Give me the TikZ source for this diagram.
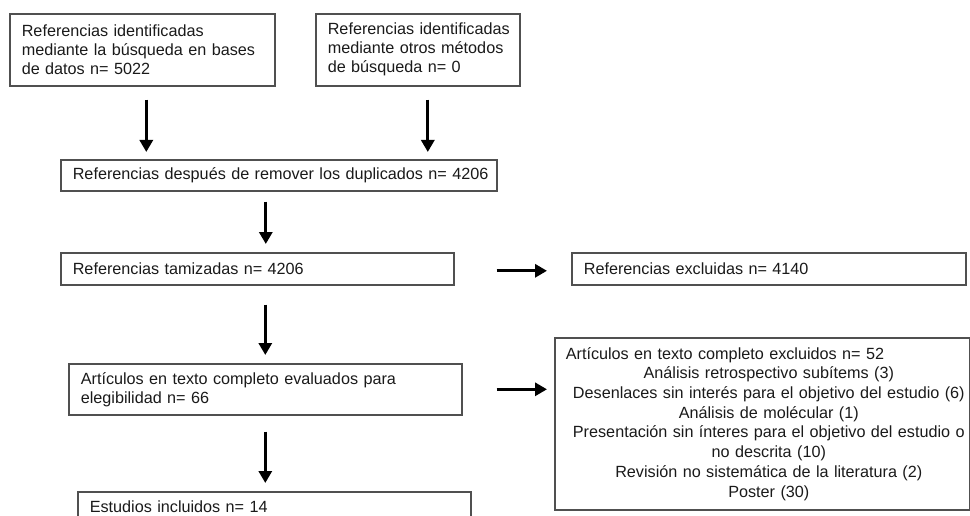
\documentclass[tikz,border=0pt]{standalone}
\usepackage{fontspec}
\setmainfont{Liberation Sans}
\usetikzlibrary{arrows.meta,calc}
\definecolor{boxline}{HTML}{505050}
\definecolor{txt}{HTML}{1A1A1A}
\newcommand{\myoneline}[1]{\mbox{#1}}
\newcommand{\myctrline}[1]{\makebox[406pt][c]{#1}}
\begin{document}
\begin{tikzpicture}[x=1pt,y=-1pt,
  every node/.style={font=\fontsize{16.2}{19}\selectfont, text=txt},
  box/.style={draw=boxline, line width=1.6pt, rectangle, inner xsep=12pt, inner ysep=0pt, anchor=north west, align=left},
  arr/.style={draw=black, line width=3pt, -{Triangle[length=12pt,width=13pt]}}]
\useasboundingbox (0,0) rectangle (970,516);
\clip (0,0) rectangle (970,516);
\node[box, minimum width=265pt, minimum height=72pt, text width=241pt] (b1) at (9,13)
  {\myoneline{Referencias identificadas}\\\myoneline{mediante la búsqueda en bases}\\\myoneline{de datos n= 5022}};
\node[box, minimum width=204pt, minimum height=72pt, text width=180pt] (b2) at (315,13)
  {\myoneline{Referencias identificadas}\\\myoneline{mediante otros métodos}\\\myoneline{de búsqueda n= 0}};
\node[box, minimum width=436pt, minimum height=31pt, text width=412pt] (b3) at (60,159)
  {\myoneline{Referencias después de remover los duplicados n= 4206}};
\node[box, minimum width=393pt, minimum height=32pt, text width=369pt] (b4) at (60,252)
  {\myoneline{Referencias tamizadas n= 4206}};
\node[box, minimum width=393pt, minimum height=51pt, text width=369pt] (b5) at (68,363)
  {\myoneline{Artículos en texto completo evaluados para}\\\myoneline{elegibilidad n= 66}};
\node[box, minimum width=393pt, minimum height=30pt, text width=369pt] (b6) at (77,491)
  {\myoneline{Estudios incluidos n= 14}};
\node[box, minimum width=394pt, minimum height=32pt, text width=370pt] (b7) at (571,252)
  {\myoneline{Referencias excluidas n= 4140}};
\node[box, minimum width=415pt, minimum height=172pt, text width=393pt, inner xsep=11pt,
      font=\fontsize{16.2}{19.7}\selectfont] (b8) at (554,337)
  {\myoneline{Artículos en texto completo excluidos n= 52}\\
   \myctrline{Análisis retrospectivo subítems (3)}\\
   \myctrline{Desenlaces sin interés para el objetivo del estudio (6)}\\
   \myctrline{Análisis de molécular (1)}\\
   \myctrline{Presentación sin ínteres para el objetivo del estudio o}\\
   \myctrline{no descrita (10)}\\
   \myctrline{Revisión no sistemática de la literatura (2)}\\
   \myctrline{Poster (30)}};
% vertical arrows
\draw[arr] ([xshift=4pt,yshift=-13pt]b1.south) -- ([xshift=4pt,yshift=7pt]b1.south |- b3.north);
\draw[arr] ([xshift=10pt,yshift=-13pt]b2.south) -- ([xshift=10pt,yshift=7pt]b2.south |- b3.north);
\draw[arr] ([xshift=-13pt,yshift=-10pt]b3.south) -- ([xshift=-13pt,yshift=8pt]b3.south |- b4.north);
\draw[arr] ([yshift=-19pt]b5.north |- b4.south) -- ([yshift=8pt]b5.north);
\draw[arr] ([yshift=-16pt]b5.south) -- ([yshift=8pt]b5.south |- b6.north);
% horizontal arrows
\draw[arr] ([xshift=42pt,yshift=-2pt]b4.east) -- ([xshift=-24pt,yshift=-2pt]b4.east -| b7.west);
\draw[arr] ([xshift=34pt]b5.east) -- ([xshift=-7pt]b5.east -| b8.west);
\end{tikzpicture}
\end{document}
